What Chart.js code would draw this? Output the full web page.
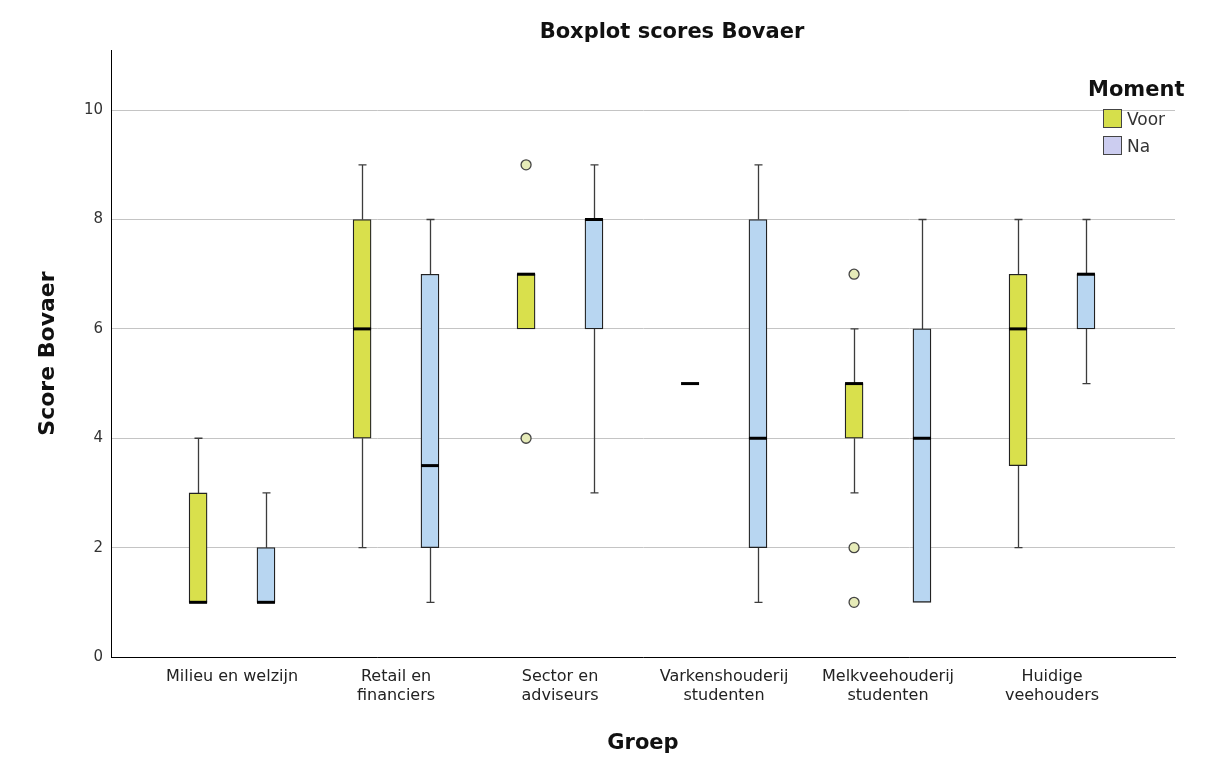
<!DOCTYPE html>
<html>
<head>
<meta charset="utf-8">
<title>Boxplot scores Bovaer</title>
<script src="https://cdn.jsdelivr.net/npm/chart.js@4.4.1/dist/chart.umd.min.js"></script>
<style>
    body { margin: 0; background: #fff; }
    #wrap { position: relative; width: 1208px; height: 758px; }
    #chartTitle {
        position: absolute; left: 672px; top: 31px; transform: translate(-50%, -50%);
        font: bold 21px "DejaVu Sans", sans-serif; color: #111; white-space: nowrap;
    }
    #legend { position: absolute; left: 1088px; top: 77px; font-family: "DejaVu Sans", sans-serif; }
    #legend .head { font-weight: bold; font-size: 21px; color: #111; margin-bottom: 4px; }
    #legend .item { display: flex; align-items: center; height: 27px; margin-left: 15px; font-size: 17px; color: #333; }
    #legend .sw { width: 17px; height: 17px; border: 1px solid #444; margin-right: 5px; }
</style>
</head>
<body>
<div id="wrap">
    <canvas id="boxChart"></canvas>
    <div id="chartTitle">Boxplot scores Bovaer</div>
    <div id="legend">
        <div class="head">Moment</div>
        <div class="item"><span class="sw" style="background:#d6df4b"></span>Voor</div>
        <div class="item"><span class="sw" style="background:#cccdf0"></span>Na</div>
    </div>
</div>
<script>
// Groepen (x-as) en y-ticks
const categories = ['Milieu en welzijn', 'Retail en\nfinanciers', 'Sector en\nadviseurs',
    'Varkenshouderij\nstudenten', 'Melkveehouderij\nstudenten', 'Huidige\nveehouders'];
const yTicks = [0, 2, 4, 6, 8, 10];

// Moment: Voor
const voorMin = [1, 2, 6, 5, 3, 2];
const voorQ1 = [1, 4, 6, 5, 4, 3.5];
const voorMed = [1, 6, 7, 5, 5, 6];
const voorQ3 = [3, 8, 7, 5, 5, 7];
const voorMax = [4, 9, 7, 5, 6, 8];
const voorOutliers = [[], [], [9, 4], [], [7, 2, 1], []];

// Moment: Na
const naMin = [1, 1, 3, 1, 1, 5];
const naQ1 = [1, 2, 6, 2, 1, 6];
const naMed = [1, 3.5, 8, 4, 4, 7];
const naQ3 = [2, 7, 8, 8, 6, 7];
const naMax = [3, 8, 9, 9, 8, 8];

const shift = 0.207; // verschuiving van Voor / Na binnen een groep

const series = [
    {min: voorMin, q1: voorQ1, med: voorMed, q3: voorQ3, max: voorMax, off: -shift},
    {min: naMin, q1: naQ1, med: naMed, q3: naQ3, max: naMax, off: shift}
];

// Whiskers + mediaan tekenen via de schalen van Chart.js
const boxLines = {
    id: 'boxLines',
    beforeDatasetsDraw(chart) {
        const {ctx, scales: {x, y}} = chart;
        ctx.save();
        ctx.strokeStyle = '#3c3c3c';
        ctx.lineWidth = 1.3;
        series.forEach(s => {
            s.min.forEach((lo, i) => {
                const px = Math.round(x.getPixelForValue(i + s.off)) + 0.5;
                const seg = (a, b) => {
                    const ya = y.getPixelForValue(a), yb = y.getPixelForValue(b);
                    ctx.beginPath();
                    ctx.moveTo(px, ya); ctx.lineTo(px, yb);
                    ctx.moveTo(px - 4, yb); ctx.lineTo(px + 4, yb);
                    ctx.stroke();
                };
                if (s.max[i] > s.q3[i]) seg(s.q3[i], s.max[i]);
                if (lo < s.q1[i]) seg(s.q1[i], lo);
            });
        });
        ctx.restore();
    },
    afterDatasetsDraw(chart) {
        const {ctx, scales: {x, y}} = chart;
        ctx.save();
        ctx.strokeStyle = '#000';
        ctx.lineWidth = 3;
        series.forEach(s => {
            s.med.forEach((m, i) => {
                const px = x.getPixelForValue(i + s.off);
                const py = y.getPixelForValue(m);
                ctx.beginPath();
                ctx.moveTo(px - 9, py); ctx.lineTo(px + 9, py);
                ctx.stroke();
            });
        });
        ctx.restore();
    }
};

const voorBoxes = voorQ1.map((q, i) => ({x: i - shift, y: [q, voorQ3[i]]}));
const naBoxes = naQ1.map((q, i) => ({x: i + shift, y: [q, naQ3[i]]}));
const outlierPts = [];
voorOutliers.forEach((arr, i) => arr.forEach(v => outlierPts.push({x: i - shift, y: v})));

new Chart(document.getElementById('boxChart'), {
    type: 'bar',
    data: {
        datasets: [
            {
                label: 'Voor', data: voorBoxes, backgroundColor: '#d9e04c',
                borderColor: '#222', borderWidth: 1.3, borderSkipped: false,
                barThickness: 18, grouped: false
            },
            {
                label: 'Na', data: naBoxes, backgroundColor: '#b8d6f1',
                borderColor: '#222', borderWidth: 1.3, borderSkipped: false,
                barThickness: 18, grouped: false
            },
            {
                type: 'scatter', label: 'Uitschieters', data: outlierPts,
                pointStyle: 'circle', pointRadius: 5, pointBorderWidth: 1.3,
                backgroundColor: '#e6ebb8', borderColor: '#444'
            }
        ]
    },
    options: {
        responsive: true,
        maintainAspectRatio: false,
        animation: false,
        layout: { padding: { left: 30, top: 50, right: 33, bottom: 0 } },
        plugins: {
            legend: { display: false },
            tooltip: { enabled: false }
        },
        scales: {
            x: {
                type: 'linear',
                min: -0.738, max: 5.75,
                offset: false,
                afterBuildTicks: scale => { scale.ticks = categories.map((c, i) => ({value: i})); },
                afterFit: scale => { scale.height = 101; },
                grid: { display: false, drawTicks: false, offset: false },
                border: { display: true, color: '#000', width: 1 },
                ticks: {
                    autoSkip: false, maxRotation: 0, padding: 11, color: '#222',
                    font: { family: 'DejaVu Sans', size: 16, lineHeight: 1.15 },
                    callback: v => categories[v] ? categories[v].split('\n') : ''
                },
                title: {
                    display: true, text: 'Groep', color: '#111',
                    font: { family: 'DejaVu Sans', size: 21, weight: 'bold', lineHeight: 1.2 },
                    padding: { top: 0, bottom: 2 }
                }
            },
            y: {
                min: 0, max: 11.1,
                afterBuildTicks: scale => { scale.ticks = yTicks.map(v => ({value: v})); },
                afterFit: scale => { scale.width = 81; },
                grid: { color: '#c4c4c4', lineWidth: 1, drawTicks: false },
                border: { display: true, color: '#000', width: 1 },
                ticks: {
                    padding: 8, color: '#333',
                    font: { family: 'DejaVu Sans', size: 15 }
                },
                title: {
                    display: true, text: 'Score Bovaer', color: '#111',
                    font: { family: 'DejaVu Sans', size: 22, weight: 'bold', lineHeight: 1.2 },
                    padding: { top: 5, bottom: 0 }
                }
            }
        }
    },
    plugins: [boxLines]
});
</script>
</body>
</html>
